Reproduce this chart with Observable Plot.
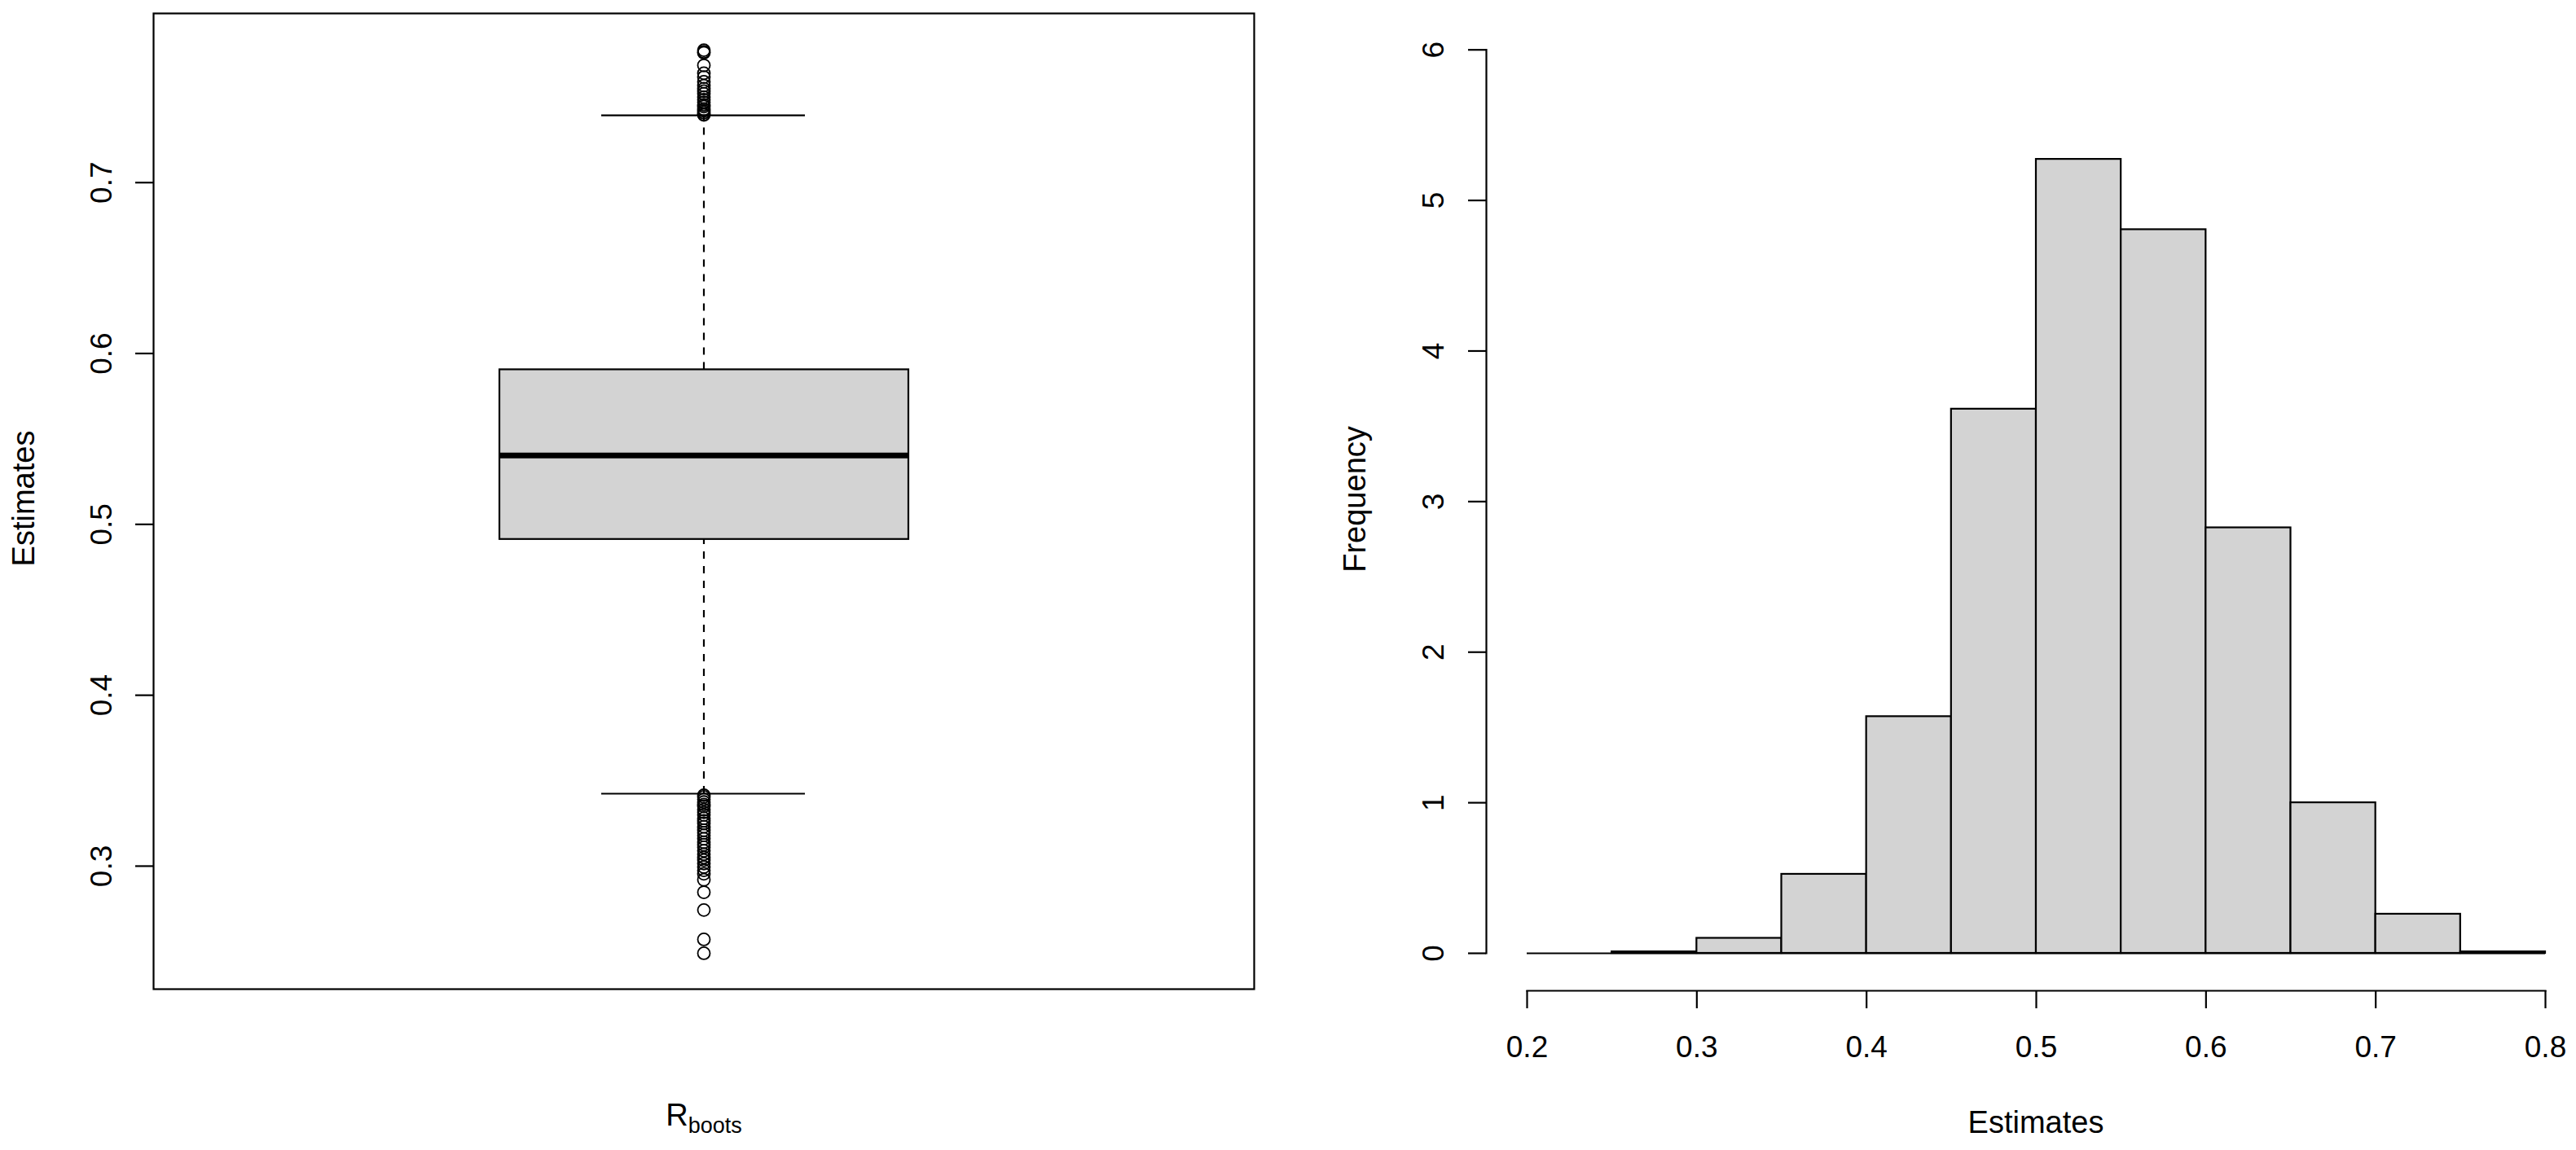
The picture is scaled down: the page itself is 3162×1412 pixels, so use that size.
<!DOCTYPE html>
<html><head><meta charset="utf-8">
<script src="https://cdn.jsdelivr.net/npm/d3@7"></script>
<script src="https://cdn.jsdelivr.net/npm/@observablehq/plot@0.6"></script>
<style>
html,body{margin:0;padding:0;background:#fff;}
#wrap{position:relative;width:3162px;height:1412px;overflow:hidden;background:#fff;}
#left{position:absolute;left:0;top:0;}
#right{position:absolute;left:1600px;top:0;}
</style></head><body>
<div id="wrap"><div id="left"></div><div id="right"></div></div>
<script>
// ---- Boxplot data (R_boots) ----
const boxCategory = ["Rboots"];
const boxQ1 = 0.4912;
const boxMedian = 0.5403;
const boxQ3 = 0.5905;
const whiskerLow = 0.3424;
const whiskerHigh = 0.7394;
const outliersHigh = [0.7775, 0.7765, 0.7760, 0.7686, 0.7640, 0.7618, 0.7590, 0.7568, 0.7550, 0.7535,
  0.7520, 0.7500, 0.7485, 0.7470, 0.7455, 0.7445, 0.7430, 0.7420, 0.7410, 0.7400, 0.7396];
const outliersLow = [0.3415, 0.3405, 0.3390, 0.3375, 0.3360, 0.3350, 0.3330, 0.3315, 0.3300, 0.3280,
  0.3265, 0.3250, 0.3230, 0.3210, 0.3195, 0.3180, 0.3160, 0.3140, 0.3125, 0.3110, 0.3090, 0.3070,
  0.3050, 0.3035, 0.3015, 0.2995, 0.2975, 0.2955, 0.2920, 0.2847, 0.2743, 0.2571, 0.2490];
const boxYTicks = [0.3, 0.4, 0.5, 0.6, 0.7];

// ---- Histogram data ----
const histBreaks = [0.20, 0.25, 0.30, 0.35, 0.40, 0.45, 0.50, 0.55, 0.60, 0.65, 0.70, 0.75, 0.80];
const histDensity = [0, 0.01, 0.10, 0.525, 1.572, 3.614, 5.273, 4.806, 2.826, 1.0, 0.26, 0.01];
const histXTicks = [0.2, 0.3, 0.4, 0.5, 0.6, 0.7, 0.8];
const histYTicks = [0, 1, 2, 3, 4, 5, 6];

const FONT = "'Liberation Sans', Arial, Helvetica, sans-serif";
const FS = 37;
const LW = 2.2;

// ---------- Left: boxplot ----------
const boxRows = [{cat: boxCategory[0], lo: whiskerLow, q1: boxQ1, med: boxMedian, q3: boxQ3, hi: whiskerHigh}];
const outRows = outliersHigh.concat(outliersLow).map(v => ({cat: boxCategory[0], v}));

const left = Plot.plot({
  width: 1600, height: 1412,
  marginLeft: 188, marginRight: 61, marginTop: 16, marginBottom: 198,
  style: {fontFamily: FONT, fontSize: FS + "px", background: "white", color: "black", overflow: "visible"},
  x: {type: "band", domain: boxCategory, padding: 0, axis: null},
  y: {domain: [0.228, 0.799]},
  marks: [
    Plot.ruleX(boxRows, {x: "cat", y1: "q3", y2: "hi", stroke: "black", strokeWidth: LW, strokeDasharray: "9,9"}),
    Plot.ruleX(boxRows, {x: "cat", y1: "lo", y2: "q1", stroke: "black", strokeWidth: LW, strokeDasharray: "9,9"}),
    Plot.tickY(boxRows, {x: "cat", y: "hi", insetLeft: 550, insetRight: 551, stroke: "black", strokeWidth: LW}),
    Plot.tickY(boxRows, {x: "cat", y: "lo", insetLeft: 550, insetRight: 551, stroke: "black", strokeWidth: LW}),
    Plot.barY(boxRows, {x: "cat", y1: "q1", y2: "q3", insetLeft: 425, insetRight: 424, fill: "#d3d3d3", stroke: "black", strokeWidth: LW}),
    Plot.tickY(boxRows, {x: "cat", y: "med", insetLeft: 425, insetRight: 424, stroke: "black", strokeWidth: 7}),
    Plot.dot(outRows, {x: "cat", y: "v", r: 7.5, stroke: "black", strokeWidth: 1.8, fill: "none"}),
    Plot.frame({stroke: "black", strokeWidth: LW}),
    Plot.axisY(boxYTicks, {anchor: "left", tickSize: 22, tickPadding: 30, tickRotate: -90, fontSize: FS,
      strokeWidth: LW, tickFormat: d => d.toFixed(1), label: null})
  ]
});
document.getElementById("left").appendChild(left);

// ---------- Right: histogram ----------
const bins = histDensity.map((d, i) => ({x0: histBreaks[i], x1: histBreaks[i + 1], d}));

const right = Plot.plot({
  width: 1562, height: 1412,
  marginLeft: 274, marginRight: 38, marginTop: 60.7, marginBottom: 242,
  style: {fontFamily: FONT, fontSize: FS + "px", background: "white", color: "black", overflow: "visible"},
  x: {domain: [0.2, 0.8]},
  y: {domain: [0, 6]},
  marks: [
    Plot.rectY(bins, {x1: "x0", x2: "x1", y: "d", fill: "#d3d3d3", stroke: "black", strokeWidth: LW}),
    Plot.ruleY([0], {x1: histBreaks[0], x2: histBreaks[histBreaks.length - 1], stroke: "black", strokeWidth: LW}),
    Plot.axisY(histYTicks, {anchor: "left", tickSize: 22, tickPadding: 31, tickRotate: -90, dx: -50,
      fontSize: FS, strokeWidth: LW, tickFormat: d => String(d), label: null}),
    Plot.frame({anchor: "left", dx: -50, stroke: "black", strokeWidth: LW}),
    Plot.axisX(histXTicks, {anchor: "bottom", tickSize: 22, tickPadding: 33, dy: 46,
      fontSize: FS, strokeWidth: LW, tickFormat: d => d.toFixed(1), label: null}),
    Plot.frame({anchor: "bottom", dy: 46, stroke: "black", strokeWidth: LW})
  ]
});
document.getElementById("right").appendChild(right);

// ---------- Axis titles ----------
function addText(svg, x, y, rot, parts) {
  const t = d3.select(svg).append("text")
    .attr("transform", `translate(${x},${y}) rotate(${rot})`)
    .attr("text-anchor", "middle")
    .attr("fill", "black")
    .style("font-family", FONT);
  parts.forEach(p => {
    const s = t.append("tspan").text(p.text).style("font-size", p.size + "px");
    if (p.dy) s.attr("dy", p.dy);
  });
}
addText(left, 42, 612, -90, [{text: "Estimates", size: 38}]);
addText(left, 864, 1382, 0, [{text: "R", size: 38}, {text: "boots", size: 27, dy: 9}]);
addText(right, 76, 613, -90, [{text: "Frequency", size: 38}]);
addText(right, 899, 1391, 0, [{text: "Estimates", size: 38}]);
</script>
</body></html>
